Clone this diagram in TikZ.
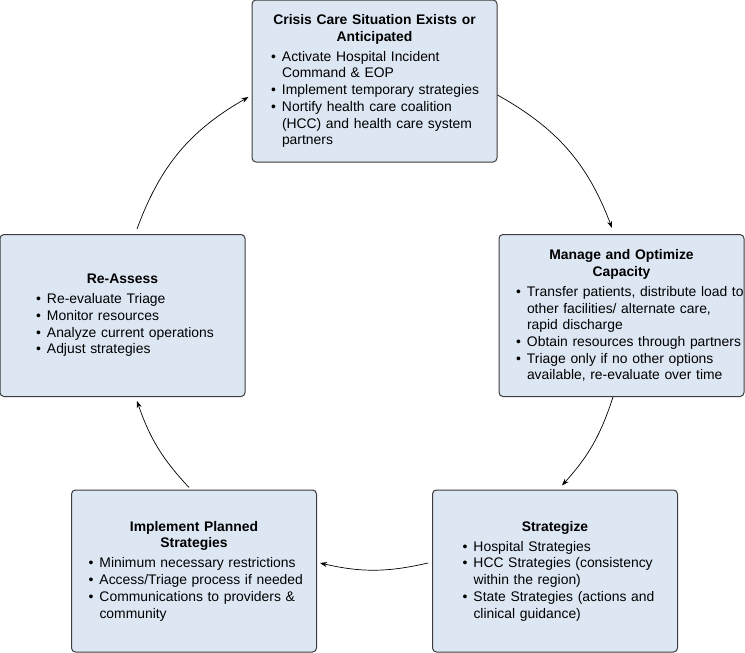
\documentclass[tikz,border=0pt]{standalone}
\usepackage{fontspec}
\setmainfont{Liberation Sans}
\usetikzlibrary{arrows.meta}
\definecolor{stagefill}{RGB}{221,231,243}
\definecolor{stageline}{RGB}{60,60,60}
\newlength{\pointskip}
\newcommand{\stagehead}[1]{{\centering\bfseries #1\par}\vspace{3.5pt}}
\newcommand{\stagepoint}{\par\leftskip=\pointskip\rightskip=-20pt plus 1fil\hangindent=11pt\hangafter=1\noindent\hbox to 11pt{\textbullet\hfil}}

\begin{document}
\begin{tikzpicture}[x=1pt, y=-1pt,
    stage/.style={draw=stageline, fill=stagefill, line width=1pt, rounded corners=4pt,
      minimum width=245pt, minimum height=162pt, text width=241pt, inner sep=0pt,
      align=left, font=\fontsize{13.9}{16.7}\selectfont},
    point indent/.style={execute at begin node={\setlength{\pointskip}{#1}}},
    flow/.style={-{Stealth[length=7pt, width=5pt]}, line width=0.7pt}]
  \useasboundingbox (0,0) rectangle (745,653);
  \node[stage, point indent=17pt] (crisis) at (374.5,81) {\stagehead{Crisis Care Situation Exists or\\Anticipated}
    \stagepoint Activate Hospital Incident\newline Command \& EOP
    \stagepoint Implement temporary strategies
    \stagepoint Nortify health care coalition\newline (HCC) and health care system\newline partners\par};
  \node[stage, point indent=15pt] (manage) at (621.5,315.5) {\stagehead{Manage and Optimize\\Capacity}
    \stagepoint Transfer patients, distribute load to\newline other facilities/ alternate care,\newline rapid discharge
    \stagepoint Obtain resources through partners
    \stagepoint Triage only if no other options\newline available, re-evaluate over time\par};
  \node[stage, point indent=28pt] (strategize) at (555,571) {\stagehead{Strategize}
    \stagepoint Hospital Strategies
    \stagepoint HCC Strategies (consistency\newline within the region)
    \stagepoint State Strategies (actions and\newline clinical guidance)\par};
  \node[stage, point indent=15pt] (implement) at (194,571) {\stagehead{Implement Planned\\Strategies}
    \stagepoint Minimum necessary restrictions
    \stagepoint Access/Triage process if needed
    \stagepoint Communications to providers \&\newline community\par};
  \node[stage, point indent=34pt] (reassess) at (122.5,315.5) {\stagehead{Re-Assess}
    \stagepoint Re-evaluate Triage
    \stagepoint Monitor resources
    \stagepoint Analyze current operations
    \stagepoint Adjust strategies\par};
  \draw[flow] ([yshift=-14pt]crisis.east) to[bend left=20] ([xshift=-9.5pt,yshift=6pt]manage.north);
  \draw[flow] ([xshift=-8.5pt]manage.south) to[bend left=12] ([xshift=7pt,yshift=4pt]strategize.north);
  \draw[flow] ([xshift=-4pt,yshift=8pt]strategize.west) to[bend left=13] ([xshift=3pt,yshift=8pt]implement.east);
  \draw[flow] ([xshift=-5pt,yshift=2pt]implement.north) to[bend left=12] ([xshift=14.5pt,yshift=-4pt]reassess.south);
  \draw[flow] ([xshift=14.5pt,yshift=5pt]reassess.north) to[bend left=20] ([xshift=-3pt,yshift=-16pt]crisis.west);
\end{tikzpicture}
\end{document}
